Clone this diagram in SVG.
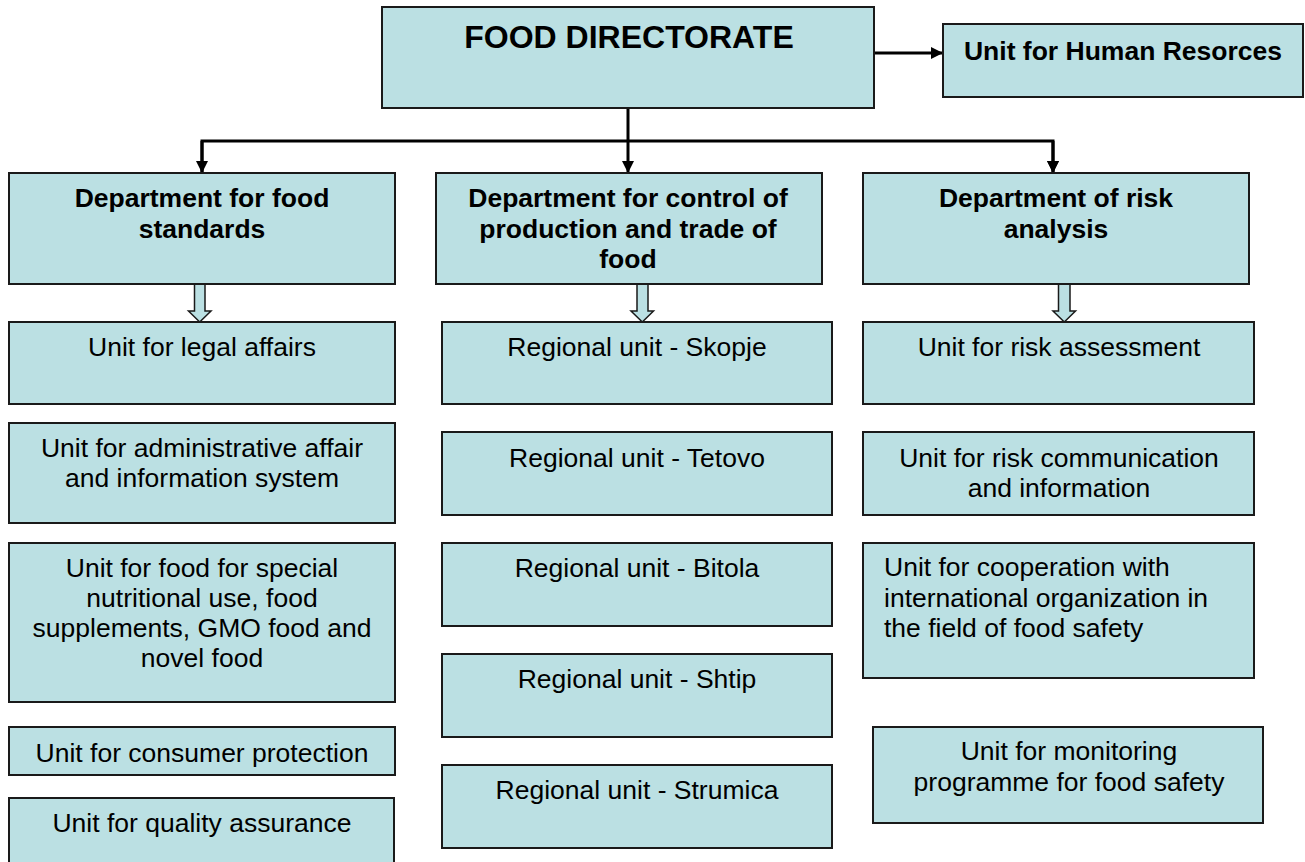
<svg xmlns="http://www.w3.org/2000/svg" width="1305" height="862" viewBox="0 0 1305 862">
<style>
  .box { fill: #BBE0E3; stroke: #1a1a1a; stroke-width: 2; }
  .t { font-family: "Liberation Sans", Arial, sans-serif; font-size: 26.5px; fill: #000; text-anchor: middle; }
  .b { font-weight: bold; }
  .l { text-anchor: start; }
  .conn { stroke: #000; stroke-width: 3; fill: none; }
  .hollow { fill: #BBE0E3; stroke: #1a1a1a; stroke-width: 1.5; stroke-linejoin: miter; }
</style>
<defs>
  <marker id="ah" markerWidth="12" markerHeight="12" refX="12" refY="6" orient="auto" markerUnits="userSpaceOnUse">
    <path d="M0,0 L12,6 L0,12 Z" fill="#000"/>
  </marker>
</defs>
<rect width="1305" height="862" fill="#fff"/>

<g id="connectors">
  <line class="conn" x1="874" y1="53" x2="943" y2="53" marker-end="url(#ah)"/>
  <line class="conn" x1="628" y1="108" x2="628" y2="141"/>
  <polyline class="conn" points="202,173 202,141 1053,141 1053,173" marker-end="url(#ah)"/>
  <line class="conn" x1="202" y1="141" x2="202" y2="173" marker-end="url(#ah)"/>
  <line class="conn" x1="628" y1="141" x2="628" y2="173" marker-end="url(#ah)"/>
  <line class="conn" x1="1053" y1="141" x2="1053" y2="173" marker-end="url(#ah)"/>
  <path class="hollow" d="M194.5,284 L205,284 L205,311 L211,311 L199.7,322 L188.5,311 L194.5,311 Z"/>
  <path class="hollow" d="M637,284 L648,284 L648,311 L653.5,311 L642.3,322 L631,311 L637,311 Z"/>
  <path class="hollow" d="M1058.5,284 L1070,284 L1070,311 L1075.5,311 L1064.3,322 L1053,311 L1058.5,311 Z"/>
</g>

<g id="food-directorate">
  <rect class="box" x="382" y="7" width="492" height="101"/>
  <text class="t b" x="629" y="48" style="font-size:32px">FOOD DIRECTORATE</text>
</g>
<g id="unit-hr">
  <rect class="box" x="943" y="24" width="360" height="73"/>
  <text class="t b" x="1123" y="60">Unit for Human Resorces</text>
</g>

<g id="dept-food-standards">
  <rect class="box" x="9" y="173" width="386" height="111"/>
  <text class="t b" x="202" y="207">Department for food</text>
  <text class="t b" x="202" y="238">standards</text>
</g>
<g id="dept-control">
  <rect class="box" x="436" y="173" width="386" height="111"/>
  <text class="t b" x="628" y="207">Department for control of</text>
  <text class="t b" x="628" y="238">production and trade of</text>
  <text class="t b" x="628" y="268">food</text>
</g>
<g id="dept-risk">
  <rect class="box" x="863" y="173" width="386" height="111"/>
  <text class="t b" x="1056" y="207">Department of risk</text>
  <text class="t b" x="1056" y="238">analysis</text>
</g>

<g id="unit-legal">
  <rect class="box" x="9" y="322" width="386" height="82"/>
  <text class="t" x="202" y="356">Unit for legal affairs</text>
</g>
<g id="unit-admin">
  <rect class="box" x="9" y="423" width="386" height="100"/>
  <text class="t" x="202" y="457">Unit for administrative affair</text>
  <text class="t" x="202" y="487">and information system</text>
</g>
<g id="unit-special-food">
  <rect class="box" x="9" y="543" width="386" height="159"/>
  <text class="t" x="202" y="577">Unit for food for special</text>
  <text class="t" x="202" y="607">nutritional use, food</text>
  <text class="t" x="202" y="637">supplements, GMO food and</text>
  <text class="t" x="202" y="667">novel food</text>
</g>
<g id="unit-consumer">
  <rect class="box" x="9" y="727" width="386" height="48"/>
  <text class="t" x="202" y="762">Unit for consumer protection</text>
</g>
<g id="unit-quality">
  <rect class="box" x="9" y="798" width="385" height="70"/>
  <text class="t" x="202" y="832">Unit for quality assurance</text>
</g>

<g id="unit-skopje">
  <rect class="box" x="442" y="322" width="390" height="82"/>
  <text class="t" x="637" y="356">Regional unit - Skopje</text>
</g>
<g id="unit-tetovo">
  <rect class="box" x="442" y="432" width="390" height="83"/>
  <text class="t" x="637" y="467">Regional unit - Tetovo</text>
</g>
<g id="unit-bitola">
  <rect class="box" x="442" y="543" width="390" height="83"/>
  <text class="t" x="637" y="577">Regional unit - Bitola</text>
</g>
<g id="unit-shtip">
  <rect class="box" x="442" y="654" width="390" height="83"/>
  <text class="t" x="637" y="688">Regional unit - Shtip</text>
</g>
<g id="unit-strumica">
  <rect class="box" x="442" y="765" width="390" height="83"/>
  <text class="t" x="637" y="799">Regional unit - Strumica</text>
</g>

<g id="unit-risk-assessment">
  <rect class="box" x="863" y="322" width="391" height="82"/>
  <text class="t" x="1059" y="356">Unit for risk assessment</text>
</g>
<g id="unit-risk-communication">
  <rect class="box" x="863" y="432" width="391" height="83"/>
  <text class="t" x="1059" y="467">Unit for risk communication</text>
  <text class="t" x="1059" y="497">and information</text>
</g>
<g id="unit-cooperation">
  <rect class="box" x="863" y="543" width="391" height="135"/>
  <text class="t l" x="884" y="576">Unit for cooperation with</text>
  <text class="t l" x="884" y="607">international organization in</text>
  <text class="t l" x="884" y="637">the field of food safety</text>
</g>
<g id="unit-monitoring">
  <rect class="box" x="873" y="727" width="390" height="96"/>
  <text class="t" x="1069" y="760">Unit for monitoring</text>
  <text class="t" x="1069" y="791">programme for food safety</text>
</g>
</svg>
